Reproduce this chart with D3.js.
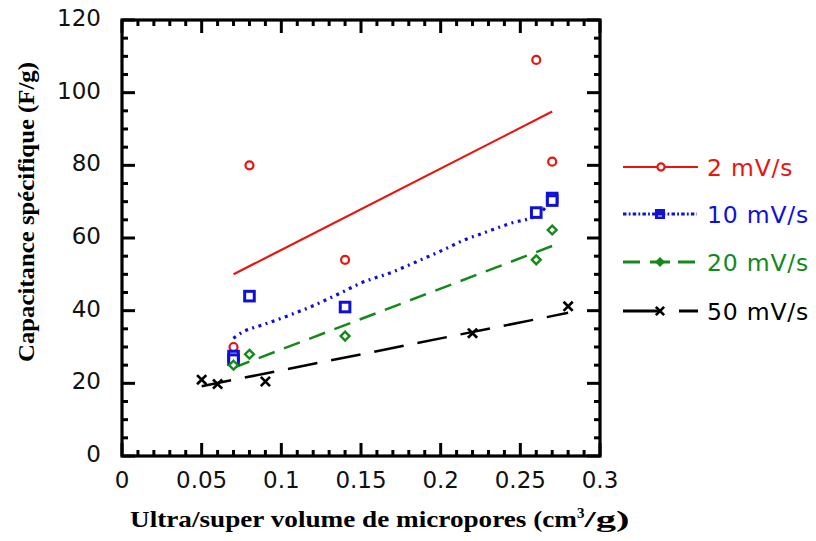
<!DOCTYPE html>
<html>
<head>
<meta charset="utf-8">
<script src="https://cdn.jsdelivr.net/npm/d3@7"></script>
<style>
  body { margin: 0; background: #fff; }
  svg { display: block; }
</style>
</head>
<body>
<svg id="chart" width="816" height="541"></svg>
<script>
// ---- data ----
const seriesNames = ["2 mV/s", "10 mV/s", "20 mV/s", "50 mV/s"];
const xTicks = [0, 0.05, 0.1, 0.15, 0.2, 0.25, 0.3];
const xTickLabels = ["0", "0.05", "0.1", "0.15", "0.2", "0.25", "0.3"];
const yTicks = [0, 20, 40, 60, 80, 100, 120];
const yTickLabels = ["0", "20", "40", "60", "80", "100", "120"];

const pts2 = [[0.07, 30], [0.08, 80], [0.14, 54], [0.26, 109], [0.27, 81]];
const pts10 = [[0.07, 27.5], [0.07, 26.5], [0.08, 44], [0.14, 41], [0.26, 67], [0.27, 71], [0.27, 70.3]];
const pts20 = [[0.07, 25], [0.08, 28], [0.14, 33], [0.26, 54], [0.27, 62.2]];
const pts50 = [[0.05, 21], [0.06, 19.8], [0.09, 20.5], [0.22, 33.8], [0.28, 41.2]];

const fit2 = [[0.07, 50], [0.27, 94.8]];
const fit10 = [[0.0699, 32.4], [0.0761, 34.2], [0.0877, 36], [0.1054, 38.8], [0.118, 41],
               [0.1387, 45.2], [0.1494, 47.5], [0.1701, 50.7], [0.185, 53.5], [0.2015, 56.7],
               [0.214, 59.3], [0.2289, 61.7], [0.2435, 64], [0.2603, 66.3], [0.2705, 70.5]];
const fit20 = [[0.07, 24.3], [0.27, 57.8]];
const fit50 = [[0.05, 19.2], [0.28, 39.4]];

// ---- layout ----
const svg = d3.select("#chart");
const L = 122, R = 600, T = 20, B = 456;
const x = d3.scaleLinear().domain([0, 0.3]).range([L, R]);
const y = d3.scaleLinear().domain([0, 120]).range([B, T]);

const colors = ["#e8150f", "#1010d8", "#13891a", "#000000"];
const dashes = [null, "3,4.5,2,4.5", "17,10", "30,14"];
const widths = [2.2, 3.2, 2.5, 2.5];

const tickFont = "DejaVu Sans, Verdana, sans-serif";

// ---- frame & ticks ----
const g = svg.append("g");
const minorX = d3.range(0, 0.3001, 0.01);
const minorY = d3.range(0, 120.01, 5);

function isMajorX(v) { return Math.abs(v / 0.05 - Math.round(v / 0.05)) < 1e-6; }
function isMajorY(v) { return Math.abs(v / 20 - Math.round(v / 20)) < 1e-6; }

minorX.forEach(v => {
  const len = isMajorX(v) ? 13 : 6;
  g.append("line").attr("x1", x(v)).attr("x2", x(v)).attr("y1", B).attr("y2", B - len)
    .attr("stroke", "#000").attr("stroke-width", 3);
  g.append("line").attr("x1", x(v)).attr("x2", x(v)).attr("y1", T).attr("y2", T + len)
    .attr("stroke", "#000").attr("stroke-width", 3);
});
minorY.forEach(v => {
  const len = isMajorY(v) ? 13 : 6;
  g.append("line").attr("x1", L).attr("x2", L + len).attr("y1", y(v)).attr("y2", y(v))
    .attr("stroke", "#000").attr("stroke-width", 3);
  g.append("line").attr("x1", R).attr("x2", R - len).attr("y1", y(v)).attr("y2", y(v))
    .attr("stroke", "#000").attr("stroke-width", 3);
});
g.append("rect").attr("x", L).attr("y", T).attr("width", R - L).attr("height", B - T)
  .attr("fill", "none").attr("stroke", "#000").attr("stroke-width", 3.2);

// tick labels
xTicks.forEach((v, i) => {
  svg.append("text").attr("x", x(v)).attr("y", 488)
    .attr("text-anchor", "middle").attr("font-family", tickFont).attr("font-size", 23)
    .attr("fill", "#111").text(xTickLabels[i]);
});
yTicks.forEach((v, i) => {
  svg.append("text").attr("x", 101).attr("y", y(v) + 6)
    .attr("text-anchor", "end").attr("font-family", tickFont).attr("font-size", 23)
    .attr("fill", "#111").text(yTickLabels[i]);
});

// axis titles
svg.append("text")
  .attr("transform", "translate(34,212) rotate(-90)")
  .attr("text-anchor", "middle")
  .attr("font-family", "Liberation Serif, Times New Roman, serif")
  .attr("font-weight", "bold").attr("font-size", 24)
  .attr("textLength", 300).attr("lengthAdjust", "spacingAndGlyphs")
  .text("Capacitance spécifique (F/g)");

const xt = svg.append("text")
  .attr("x", 130).attr("y", 527)
  .attr("font-family", "Liberation Serif, Times New Roman, serif")
  .attr("font-weight", "bold").attr("font-size", 24);
xt.append("tspan").attr("textLength", 447).attr("lengthAdjust", "spacingAndGlyphs")
  .text("Ultra/super volume de micropores (cm");
xt.append("tspan").attr("dy", -9).attr("font-size", 15).text("3");
xt.append("tspan").attr("dy", 9).attr("textLength", 45).attr("lengthAdjust", "spacingAndGlyphs").text("/g)");

// ---- fit lines ----
const line = d3.line().x(d => x(d[0])).y(d => y(d[1]));
const fits = [fit2, fit10, fit20, fit50];
fits.forEach((f, i) => {
  svg.append("path").datum(f)
    .attr("d", i === 1 ? line.curve(d3.curveMonotoneX)(f) : line.curve(d3.curveLinear)(f))
    .attr("fill", "none").attr("stroke", colors[i]).attr("stroke-width", widths[i])
    .attr("stroke-dasharray", dashes[i]);
});

// ---- markers ----
function marker(sel, type, cx, cy, color, s) {
  if (type === 0) {
    sel.append("circle").attr("cx", cx).attr("cy", cy).attr("r", 4 * s)
      .attr("fill", "#fff").attr("stroke", color).attr("stroke-width", 2.2);
  } else if (type === 1) {
    const h = 4.8 * s;
    sel.append("rect").attr("x", cx - h).attr("y", cy - h).attr("width", 2 * h).attr("height", 2 * h)
      .attr("fill", "#fff").attr("stroke", color).attr("stroke-width", 3);
  } else if (type === 2) {
    const h = 4.4 * s;
    sel.append("path").attr("d", `M${cx},${cy - h}L${cx + h},${cy}L${cx},${cy + h}L${cx - h},${cy}Z`)
      .attr("fill", "#fff").attr("stroke", color).attr("stroke-width", 2.4);
  } else {
    const h = 4.6 * s;
    sel.append("path").attr("d", `M${cx - h},${cy - h}L${cx + h},${cy + h}M${cx - h},${cy + h}L${cx + h},${cy - h}`)
      .attr("fill", "none").attr("stroke", color).attr("stroke-width", 2.7);
  }
}
const allPts = [pts2, pts10, pts20, pts50];
allPts.forEach((p, i) => {
  const gg = svg.append("g");
  p.forEach(d => marker(gg, i, x(d[0]), y(d[1]), colors[i], 1));
});

// ---- legend ----
const legY = [167, 214, 262, 311];
const leg = svg.append("g");
seriesNames.forEach((name, i) => {
  const ly = legY[i];
  if (i === 0) {
    leg.append("line").attr("x1", 623).attr("x2", 698).attr("y1", ly).attr("y2", ly)
      .attr("stroke", colors[i]).attr("stroke-width", 2.2);
  } else if (i === 1) {
    leg.append("line").attr("x1", 623).attr("x2", 697).attr("y1", ly).attr("y2", ly)
      .attr("stroke", colors[i]).attr("stroke-width", 3).attr("stroke-dasharray", "3.5,2.2,1.8,2.2");
  } else if (i === 2) {
    [[623, 640], [650, 670], [678, 695]].forEach(s =>
      leg.append("line").attr("x1", s[0]).attr("x2", s[1]).attr("y1", ly).attr("y2", ly)
        .attr("stroke", colors[i]).attr("stroke-width", 3));
  } else {
    [[623, 660], [679, 698]].forEach(s =>
      leg.append("line").attr("x1", s[0]).attr("x2", s[1]).attr("y1", ly).attr("y2", ly)
        .attr("stroke", colors[i]).attr("stroke-width", 3));
  }
  if (i === 0) marker(leg, 0, 661, ly, colors[i], 0.9);
  else if (i === 1) {
    leg.append("rect").attr("x", 655).attr("y", ly - 5).attr("width", 10).attr("height", 10)
      .attr("fill", colors[i]);
    leg.append("line").attr("x1", 658).attr("x2", 662).attr("y1", ly + 2).attr("y2", ly + 2)
      .attr("stroke", "#fff").attr("stroke-width", 1);
  } else if (i === 2) {
    leg.append("path").attr("d", `M660,${ly - 5}L665,${ly}L660,${ly + 5}L655,${ly}Z`).attr("fill", colors[i]);
  } else marker(leg, 3, 660, ly, colors[i], 0.9);

  leg.append("text").attr("x", 707).attr("y", ly + 8.5)
    .attr("font-family", tickFont).attr("font-size", 23.5).attr("letter-spacing", 0.8)
    .attr("fill", colors[i]).text(name);
});
</script>
</body>
</html>
